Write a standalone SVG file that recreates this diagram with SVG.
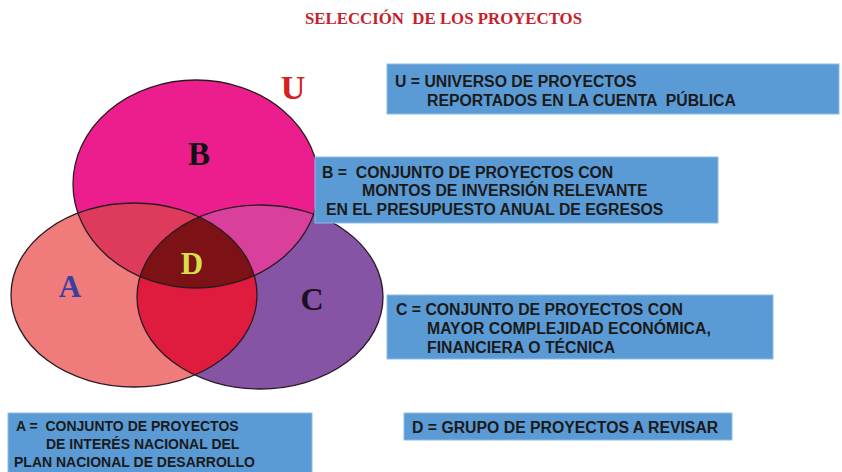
<svg xmlns="http://www.w3.org/2000/svg" width="842" height="472" viewBox="0 0 842 472">
<style>
.box{fill:#5B9BD5;stroke:#8DBBE6;stroke-width:1}
.t{font-family:"Liberation Sans",Arial,sans-serif;font-weight:bold;font-size:15.8px;fill:#1a1a1a;white-space:pre}
.s{font-size:14px}
.big{font-family:"Liberation Serif","Times New Roman",serif;font-weight:bold;text-anchor:middle}
.edge{fill:none;stroke:#2a1a22;stroke-width:1.3}
</style>
<defs>
<ellipse id="eA" cx="134" cy="295" rx="123" ry="92"/>
<ellipse id="eB" cx="196" cy="184" rx="123" ry="104"/>
<ellipse id="eC" cx="260" cy="297" rx="123" ry="92"/>
<clipPath id="cA"><use href="#eA"/></clipPath>
<clipPath id="cB"><use href="#eB"/></clipPath>
<clipPath id="cC"><use href="#eC"/></clipPath>
</defs>
<rect width="842" height="472" fill="#ffffff"/>
<text x="305" y="24" style="font-family:'Liberation Serif','Times New Roman',serif;font-weight:bold;font-size:17px;fill:#C8202A;white-space:pre" textLength="277" lengthAdjust="spacingAndGlyphs">SELECCIÓN  DE LOS PROYECTOS</text>
<g id="venn">
<g id="setA"><use href="#eA" fill="#F07B7B"/></g>
<g id="setC"><use href="#eC" fill="#8654A4"/></g>
<g id="setB"><use href="#eB" fill="#EC1E8E"/></g>
<g id="AB" clip-path="url(#cA)"><use href="#eB" fill="#DE3A5C"/></g>
<g id="BC" clip-path="url(#cC)"><use href="#eB" fill="#D9409C"/></g>
<g id="AC" clip-path="url(#cA)"><use href="#eC" fill="#E01C3E"/></g>
<g id="setD" clip-path="url(#cA)"><g clip-path="url(#cC)"><use href="#eB" fill="#7C1215"/></g></g>
<use href="#eA" class="edge"/>
<use href="#eB" class="edge"/>
<use href="#eC" class="edge"/>
<text class="big" x="199" y="165" font-size="33" fill="#111">B</text>
<text class="big" x="70" y="297" font-size="31" fill="#3D3D9E">A</text>
<text class="big" x="312" y="310" font-size="32" fill="#1a1020">C</text>
<text class="big" x="192" y="274" font-size="31" fill="#D6E04A">D</text>
</g>
<g id="U"><text class="big" x="293" y="99" font-size="34" fill="#D42020">U</text></g>
<g id="connectors"></g>
<g id="boxU">
<rect class="box" x="387" y="64" width="452" height="50"/>
<text class="t" x="395" y="87">U = UNIVERSO DE PROYECTOS</text>
<text class="t" x="427" y="106">REPORTADOS EN LA CUENTA  PÚBLICA</text>
</g>
<g id="boxB">
<rect class="box" x="315" y="157" width="403" height="66"/>
<text class="t" x="322" y="178">B =  CONJUNTO DE PROYECTOS CON</text>
<text class="t" x="362" y="196">MONTOS DE INVERSIÓN RELEVANTE</text>
<text class="t" x="326" y="215">EN EL PRESUPUESTO ANUAL DE EGRESOS</text>
</g>
<g id="boxC">
<rect class="box" x="387" y="295" width="386" height="64"/>
<text class="t" x="396" y="315">C = CONJUNTO DE PROYECTOS CON</text>
<text class="t" x="427" y="334">MAYOR COMPLEJIDAD ECONÓMICA,</text>
<text class="t" x="427" y="353">FINANCIERA O TÉCNICA</text>
</g>
<g id="boxA">
<rect class="box" x="8" y="413" width="304" height="62"/>
<text class="t s" x="16" y="431">A =  CONJUNTO DE PROYECTOS</text>
<text class="t s" x="46" y="449">DE INTERÉS NACIONAL DEL</text>
<text class="t s" x="14" y="467">PLAN NACIONAL DE DESARROLLO</text>
</g>
<g id="boxD">
<rect class="box" x="404" y="413" width="328" height="27"/>
<text class="t" x="412" y="433">D = GRUPO DE PROYECTOS A REVISAR</text>
</g>
</svg>
